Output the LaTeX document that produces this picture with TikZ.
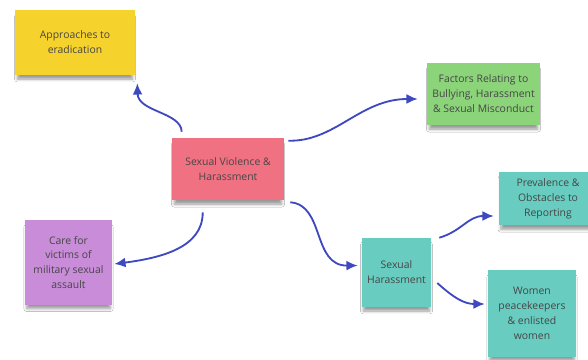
\documentclass[tikz,border=0pt]{standalone}
\usepackage{fontspec}
\setmainfont{Open Sans}
\usepackage{tikz}
\usetikzlibrary{calc, positioning, arrows.meta, shadows.blur}

\definecolor{noteyellow}{RGB}{246,210,45}
\definecolor{notepink}{RGB}{240,114,130}
\definecolor{notegreen}{RGB}{140,212,122}
\definecolor{noteteal}{RGB}{104,204,192}
\definecolor{notepurple}{RGB}{200,140,216}
\definecolor{linkblue}{RGB}{62,72,192}
\definecolor{notetext}{RGB}{70,70,70}

\tikzset{
	note/.style={minimum width=#1, align=center, text=notetext,
		font=\fontsize{7.4}{10.6}\selectfont, inner sep=1pt,
		blur shadow={shadow xshift=0pt, shadow yshift=-4pt, shadow scale=0.96, shadow opacity=40, shadow blur steps=5}},
	link/.style={-{Latex[length=8pt,width=7pt]}, linkblue, line width=1.3pt}
}

\begin{document}
\begin{tikzpicture}[x=0.025cm, y=-0.025cm]
	
	\useasboundingbox[fill=white] (0,0) rectangle (588,360);
	
	% Sticky notes
	\node[note=3cm, fill=noteyellow, minimum height=1.625cm] (approaches) at (75,42.5) {Approaches to\\eradication};
	\node[note=2.8cm, fill=notepink, minimum height=1.55cm] (svh) at (228,169) {Sexual Violence \&\\Harassment};
	\node[note=2.825cm, fill=notegreen, minimum height=1.55cm] (factors) at (483.5,94) {Factors Relating to\\Bullying, Harassment\\\& Sexual Misconduct};
	\node[note=2.175cm, fill=notepurple, minimum height=2.125cm] (care) at (68.5,262.5) {Care for\\victims of\\military sexual\\assault};
	\node[note=1.725cm, fill=noteteal, minimum height=1.725cm] (harass) at (396.5,272.5) {Sexual\\Harassment};
	\node[note=2.45cm, fill=noteteal, minimum height=1.325cm] (prevalence) at (548,198.5) {Prevalence \&\\Obstacles to\\Reporting};
	\node[note=2.2cm, fill=noteteal, minimum height=2.175cm] (women) at (532,313.5) {Women\\peacekeepers\\\& enlisted\\women};
	
	% Links
	\draw[link] ($(svh.north west)+(10,-6)$) .. controls (181,112) and (138,112) .. ($(approaches.south east)+(2,8)$);
	\draw[link] ($(svh.north east)+(4,3)$) .. controls (335,142) and (360,99) .. ($(factors.west)+(-9,5)$);
	\draw[link] ($(svh.south west)+(31,12)$) .. controls (203,248) and (160,258) .. ($(care.east)+(2,1.5)$);
	\draw[link] ($(svh.south east)+(6,2)$) .. controls (325,205) and (312,266) .. ($(harass.west)+(-4,-7)$);
	\draw[link] ($(harass.north east)+(8,0)$) .. controls (462,231) and (468,216) .. ($(prevalence.west)+(-5,17.5)$);
	\draw[link] ($(harass.east)+(6,10.5)$) .. controls (455,299) and (465,304) .. ($(women.west)+(-3,-9.5)$);
	
\end{tikzpicture}
\end{document}
